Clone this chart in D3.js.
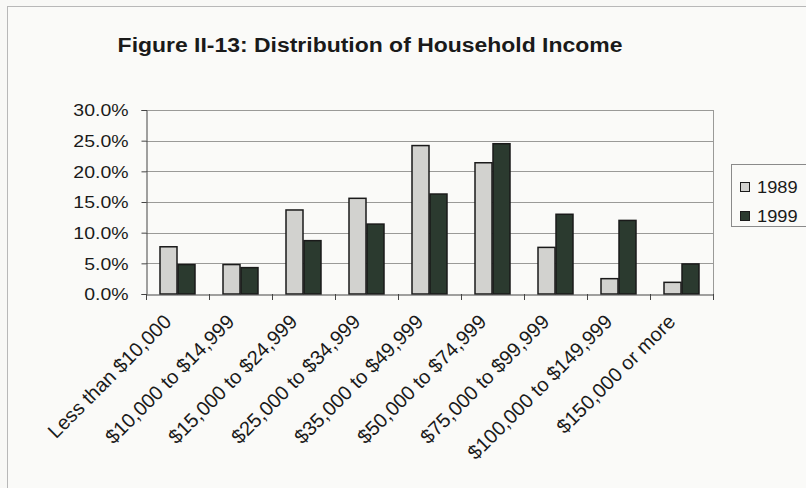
<!DOCTYPE html>
<html><head><meta charset="utf-8">
<script src="https://cdn.jsdelivr.net/npm/d3@7"></script>
<style>
html,body{margin:0;padding:0;background:#f8f8f6;}
svg{display:block;}
text{font-family:"Liberation Sans",Arial,sans-serif;fill:#1a1a1a;}
</style></head>
<body>
<svg id="c" width="806" height="488"></svg>
<script>
const categories = ["Less than $10,000","$10,000 to $14,999","$15,000 to $24,999","$25,000 to $34,999","$35,000 to $49,999","$50,000 to $74,999","$75,000 to $99,999","$100,000 to $149,999","$150,000 or more"];
const series = ["1989","1999"];
const values1989 = [7.7,4.8,13.7,15.6,24.2,21.4,7.6,2.5,1.9];
const values1999 = [4.8,4.3,8.7,11.4,16.3,24.5,13.0,12.0,4.9];
const yTicks = [0,5,10,15,20,25,30];
const title = "Figure II-13: Distribution of Household Income";
const colors = ["#d2d2cf","#2b3a2f"];
const SX = 1.14;

const svg = d3.select("#c");
svg.append("rect").attr("x",7.5).attr("y",6.5).attr("width",820).attr("height",500)
  .attr("fill","#fafaf8").attr("stroke","#b8b8b8").attr("stroke-width",1);

const L=146, R=713, T=110, B=294;
const x0 = d3.scaleBand().domain(categories).range([L,R]).padding(0);
const gap = x0.bandwidth()*1.5/3.5;
const x1 = d3.scaleBand().domain(series).range([gap/2, x0.bandwidth()-gap/2]).padding(0);
const y = d3.scaleLinear().domain([0,30]).range([B,T]);

svg.append("text").attr("transform",`translate(370,52) scale(1.12,1)`).attr("text-anchor","middle")
  .attr("font-size",20.5).attr("font-weight","bold").text(title);

svg.append("g").selectAll("line").data(yTicks.filter(d=>d>0)).join("line")
  .attr("x1",L).attr("x2",R).attr("y1",d=>Math.round(y(d))+0.5).attr("y2",d=>Math.round(y(d))+0.5)
  .attr("stroke","#9a9a98").attr("stroke-width",1);
svg.append("line").attr("x1",R+0.5).attr("x2",R+0.5).attr("y1",T).attr("y2",B).attr("stroke","#9a9a98");

const YS = 1.18;
const yAxis = d3.axisLeft(y).tickValues(yTicks).tickSize(5).tickPadding(18).tickFormat(d=>d.toFixed(1)+"%");
const gy = svg.append("g").attr("transform",`translate(${L+0.5},0)`).call(yAxis);
gy.select(".domain").attr("stroke","#444");
gy.selectAll(".tick line").attr("stroke","#444");
gy.selectAll(".tick text").attr("font-size",16.5).attr("font-family","Liberation Sans, Arial, sans-serif")
  .attr("fill","#1a1a1a").attr("dy","0.36em")
  .attr("x",-18/YS).attr("transform",`scale(${YS},1)`);

const g = svg.append("g");
const data = categories.map((c,i)=>({c, v:[values1989[i],values1999[i]]}));
g.selectAll("g").data(data).join("g").attr("transform",d=>`translate(${x0(d.c)},0)`)
  .selectAll("rect").data(d=>d.v.map((v,j)=>({s:series[j],v,j}))).join("rect")
  .attr("x",d=>x1(d.s)+0.5).attr("width",x1.bandwidth()-1)
  .attr("y",d=>y(d.v)).attr("height",d=>B-y(d.v))
  .attr("fill",d=>colors[d.j]).attr("stroke","#1a1a1a").attr("stroke-width",1.5);

const xAxis = d3.axisBottom(x0).tickSize(0).tickFormat("");
const gx = svg.append("g").attr("transform",`translate(0,${B+0.5})`).call(xAxis);
gx.select(".domain").attr("stroke","#444");
svg.append("g").selectAll("line").data(d3.range(categories.length+1)).join("line")
  .attr("x1",i=>Math.round(L+i*x0.bandwidth())+0.5).attr("x2",i=>Math.round(L+i*x0.bandwidth())+0.5)
  .attr("y1",B).attr("y2",B+6).attr("stroke","#444");
svg.append("g").selectAll("text").data(categories).join("text")
  .attr("transform",d=>`translate(${x0(d)+x0.bandwidth()/2-5},${B+29}) rotate(-45)`)
  .attr("text-anchor","end").attr("font-size",20).text(d=>d);

const lg = svg.append("g");
lg.append("rect").attr("x",731.5).attr("y",164.5).attr("width",90).attr("height",62)
  .attr("fill","#fafaf8").attr("stroke","#8a8a8a");
series.forEach((s,i)=>{
  const yy = 187 + i*29;
  lg.append("rect").attr("x",740.5).attr("y",yy-4.5).attr("width",9).attr("height",9)
    .attr("fill",colors[i]).attr("stroke","#1a1a1a");
  lg.append("text").attr("transform",`translate(757,${yy}) scale(${SX},1)`).attr("dy","0.36em")
    .attr("font-size",16).text(s);
});
</script>
</body></html>
